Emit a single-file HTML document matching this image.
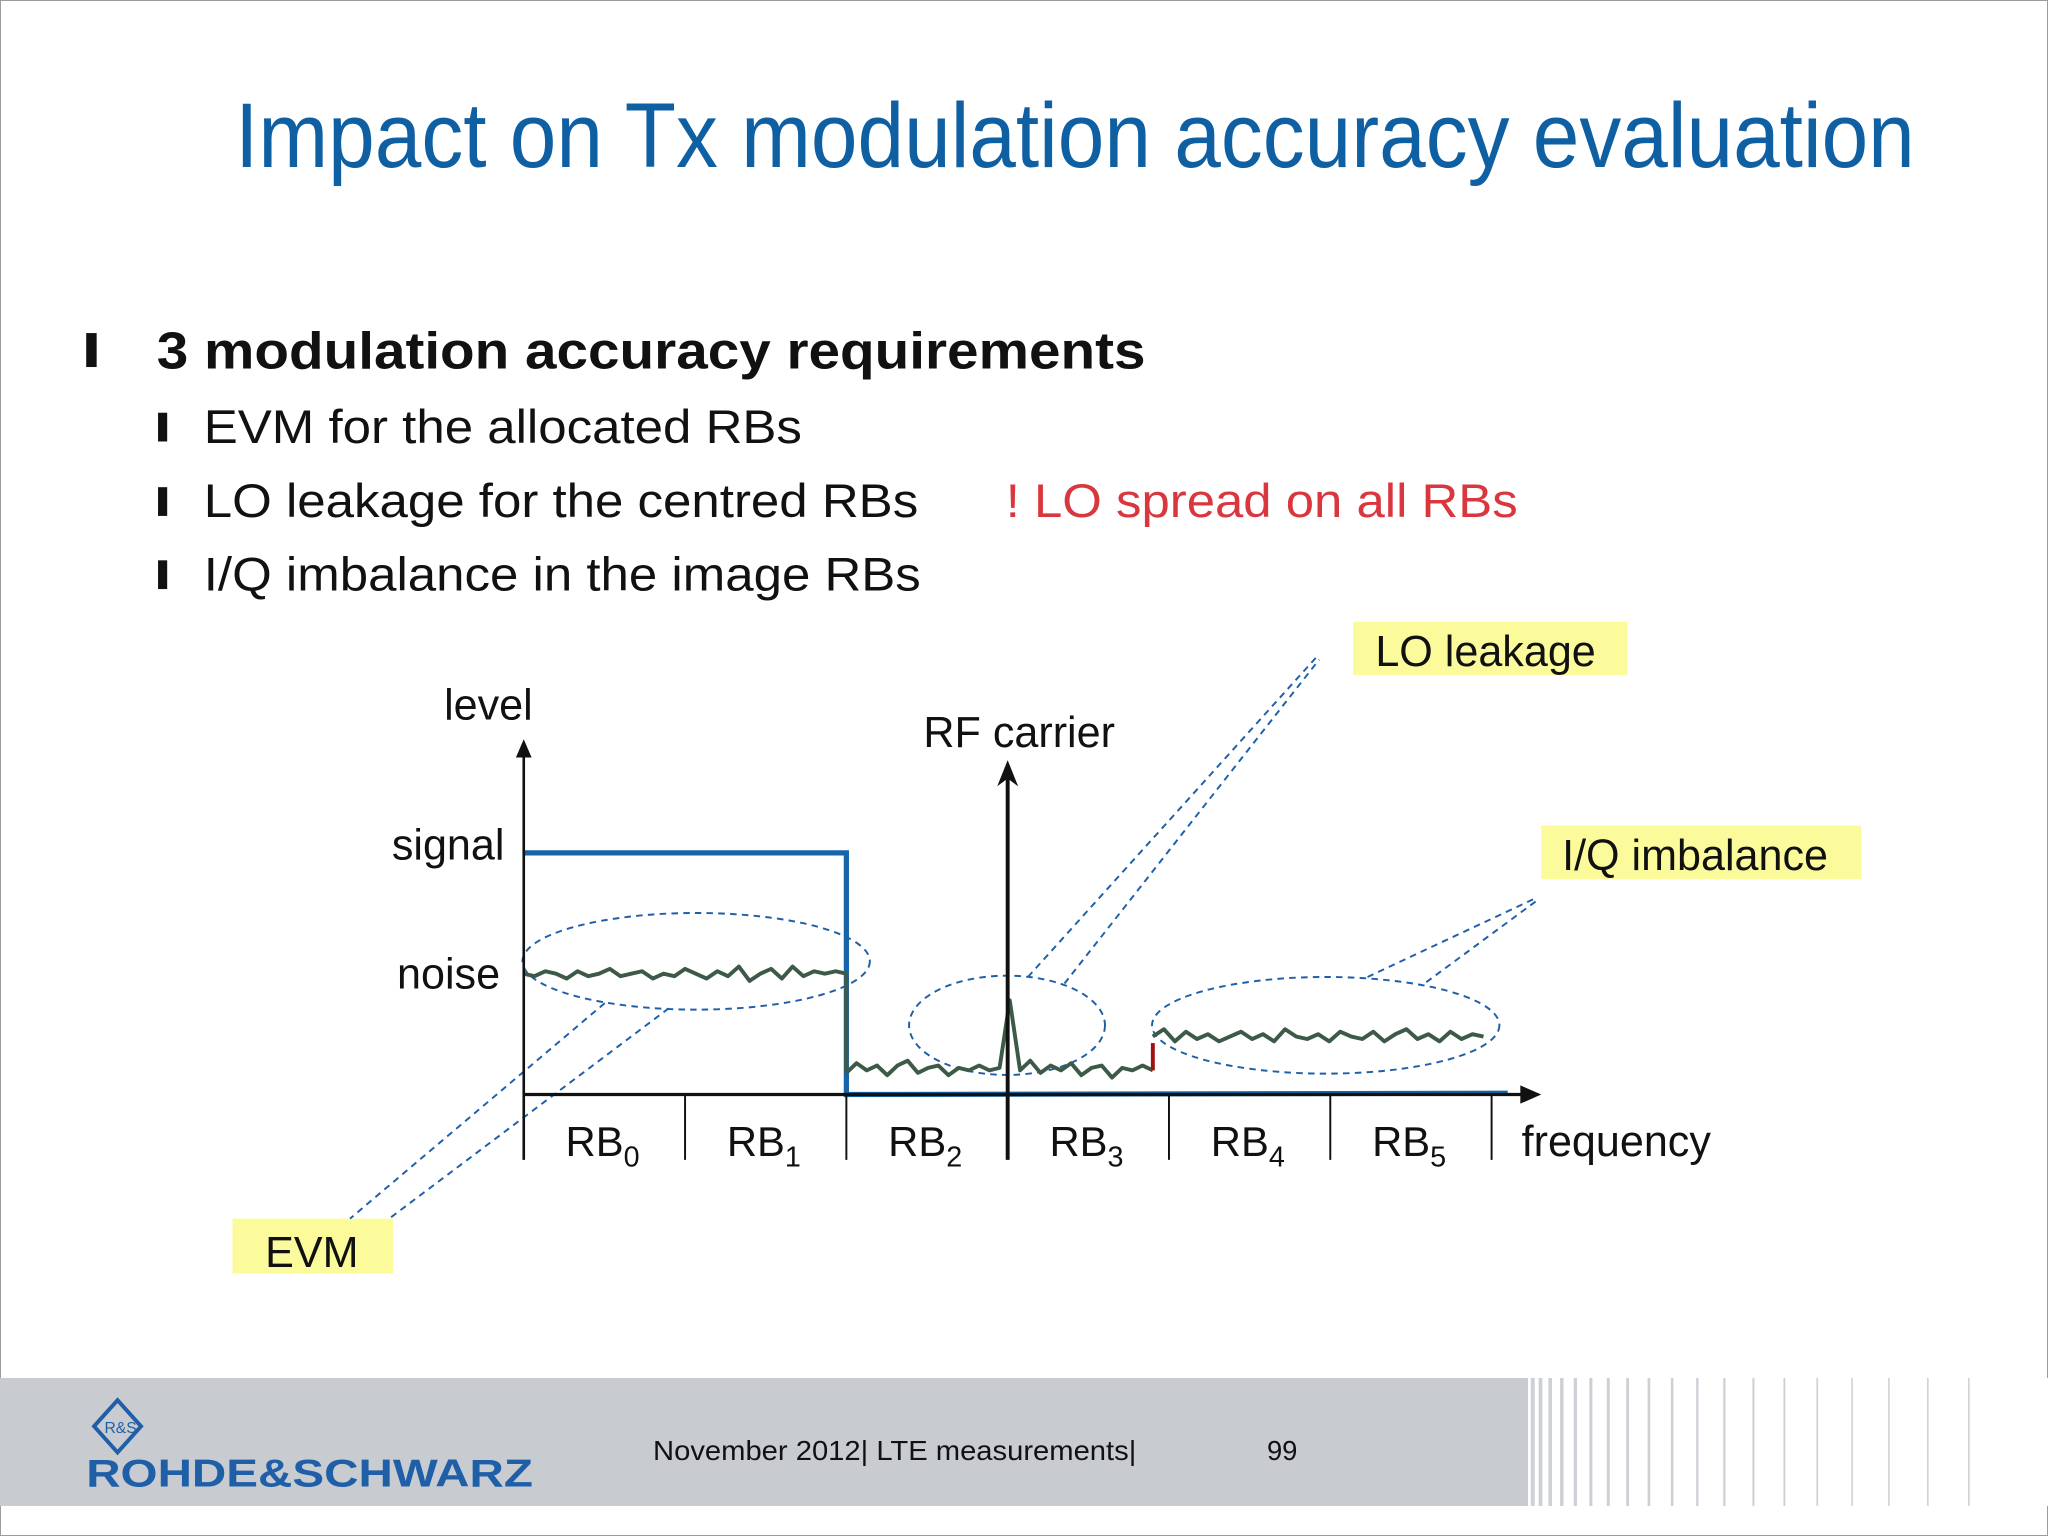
<!DOCTYPE html>
<html><head><meta charset="utf-8"><style>
html,body{margin:0;padding:0;background:#fff}
svg{display:block}
text{font-family:"Liberation Sans",sans-serif}
</style></head><body>
<svg id="s" width="2048" height="1536" viewBox="0 0 1568 1176" xmlns="http://www.w3.org/2000/svg">
<rect x="0" y="0" width="1568" height="1176" fill="#fff" stroke="#999" stroke-width="1.5"/>
<text x="180" y="128" font-size="70" fill="#0f5fa3" textLength="1286" lengthAdjust="spacingAndGlyphs">Impact on Tx modulation accuracy evaluation</text>
<rect x="66" y="255" width="8" height="26" fill="#111"/>
<text x="120" y="282" font-size="40" font-weight="bold" fill="#111" textLength="757" lengthAdjust="spacingAndGlyphs">3 modulation accuracy requirements</text>
<rect x="121" y="316" width="7" height="22" fill="#111"/>
<text x="156" y="339" font-size="36" fill="#111" textLength="458" lengthAdjust="spacingAndGlyphs">EVM for the allocated RBs</text>
<rect x="121" y="373" width="7" height="22" fill="#111"/>
<text x="156" y="396" font-size="36" fill="#111" textLength="547" lengthAdjust="spacingAndGlyphs">LO leakage for the centred RBs</text>
<text x="770" y="396" font-size="36" fill="#d9363e" textLength="392" lengthAdjust="spacingAndGlyphs">! LO spread on all RBs</text>
<rect x="121" y="429" width="7" height="22" fill="#111"/>
<text x="156" y="452" font-size="36" fill="#111" textLength="549" lengthAdjust="spacingAndGlyphs">I/Q imbalance in the image RBs</text>

<g id="chart"></g>

<rect x="0" y="1055" width="1170" height="98" fill="#c8ccd1"/>
<g id="stripes"></g>
<g>
<path d="M90 1072 L108 1092 L90 1112 L72 1092 Z" fill="none" stroke="#1f5fa8" stroke-width="3"/>
<text x="80" y="1097" font-size="12" fill="#1f5fa8">R&amp;S</text>
<text x="66" y="1138" font-size="30" font-weight="bold" fill="#1f5fa8" textLength="342" lengthAdjust="spacingAndGlyphs">ROHDE&amp;SCHWARZ</text>
</g>
<text x="500" y="1118" font-size="21" fill="#111" textLength="370" lengthAdjust="spacingAndGlyphs">November 2012|  LTE measurements|</text>
<text x="970" y="1118" font-size="21" fill="#111">99</text>
</svg>
<script>
const rbLabels=['0','1','2','3','4','5'];
const signalLevel=[1,1];
const noiseA=[0.50,0.49,0.51,0.50,0.48,0.51,0.49,0.50,0.52,0.49,0.50,0.51,0.48,0.50,0.49,0.52,0.50,0.48,0.51,0.49,0.53,0.47,0.50,0.52,0.48,0.53,0.49,0.51,0.50,0.51,0.50];
const noiseB=[0.09,0.13,0.10,0.12,0.08,0.12,0.14,0.09,0.11,0.12,0.08,0.11,0.10,0.12,0.10,0.11,0.39,0.10,0.14,0.09,0.12,0.10,0.13,0.08,0.11,0.12,0.07,0.11,0.10,0.12,0.10];
const noiseC=[0.24,0.27,0.22,0.26,0.23,0.25,0.22,0.24,0.26,0.23,0.25,0.22,0.27,0.24,0.23,0.25,0.22,0.26,0.24,0.23,0.26,0.22,0.25,0.27,0.23,0.25,0.22,0.26,0.23,0.25,0.24];
const NS='http://www.w3.org/2000/svg';
const X0=401,RBW=123.5,Y0=838,YS=185;
const xs=f=>X0+f*RBW, ys=v=>Y0-v*YS;
const g=document.getElementById('chart');
function el(t,a,p){const e=document.createElementNS(NS,t);for(const k in a)e.setAttribute(k,a[k]);(p||g).appendChild(e);return e;}
function txt(x,y,s,sz,extra){const e=el('text',Object.assign({x:x,y:y,'font-size':sz,fill:'#111'},extra||{}));e.textContent=s;return e;}
function series(arr,f0,f1,name){
  const d=arr.map((v,i)=>(i?'L':'M')+xs(f0+(f1-f0)*i/(arr.length-1)).toFixed(1)+' '+ys(v).toFixed(1)).join(' ');
  const p=el('path',{d:d,fill:'none',stroke:'#3d5a48','stroke-width':3,'stroke-linejoin':'round'});
  
  
}
[[178,933,123,42,'EVM',203,970,'evm-label'],[1036,476,210,41,'LO leakage',1053,510,'lo-leakage-label'],[1180,632,245,41,'I/Q imbalance',1196,666,'iq-imbalance-label']].forEach(b=>{
  const r=el('rect',{x:b[0],y:b[1],width:b[2],height:b[3],fill:'#fbfb9c'});
  
  
  const t=txt(b[5],b[6],b[4],33);
  
  
});
const ds={fill:'none',stroke:'#1f5fa8','stroke-width':1.5,'stroke-dasharray':'5 4'};
[[533,736,133,37,'evm-ellipse'],[771,785,75,38,'lo-ellipse'],[1015,785,133,37,'iq-ellipse']].forEach(e=>{
  const o=el('ellipse',Object.assign({cx:e[0],cy:e[1],rx:e[2],ry:e[3]},ds));
  
  
});
[[463,768,268,933],[512,772,298,933],[787,748,1008,503],[815,753,1010,505],[1047,748,1175,688],[1092,752,1176,690]].forEach(l=>{
  const o=el('line',Object.assign({x1:l[0],y1:l[1],x2:l[2],y2:l[3]},ds));
  
  
});
const sig=el('path',{d:`M${xs(0)} ${ys(signalLevel[0])} L${xs(2)} ${ys(signalLevel[1])} L${xs(2)} ${Y0} L${xs(6.1)} ${Y0-1}`,fill:'none',stroke:'#1565a8','stroke-width':4});


series(noiseA,0,2,'noise-allocated');
const drop=el('line',{x1:xs(2),y1:ys(noiseA[noiseA.length-1]),x2:xs(2),y2:ys(noiseB[0]),stroke:'#3d5a48','stroke-width':3});


series(noiseB,2,3.9,'noise-lo-leakage');
series(noiseC,3.9,5.95,'noise-iq-image');
const red=el('line',{x1:xs(3.9),y1:ys(noiseB[noiseB.length-1]),x2:xs(3.9),y2:ys(noiseC[0])+5,stroke:'#a01010','stroke-width':3});


const ya=el('line',{x1:X0,y1:Y0+50,x2:X0,y2:575,stroke:'#111','stroke-width':2});


el('path',{d:'M401 566 L395 580 L407 580 Z',fill:'#111'});
const xa=el('line',{x1:X0,y1:Y0,x2:1170,y2:Y0,stroke:'#111','stroke-width':2.5});


el('path',{d:'M1180 838 L1164 831 L1164 845 Z',fill:'#111'});
const rf=el('line',{x1:xs(3),y1:Y0+50,x2:xs(3),y2:592,stroke:'#111','stroke-width':3});


el('path',{d:`M${xs(3)} 582 L${xs(3)-8} 602 L${xs(3)} 596 L${xs(3)+8} 602 Z`,fill:'#111'});
for(let i=1;i<=6;i++){
  if(i===3)continue;
  const t=el('line',{x1:xs(i),y1:Y0,x2:xs(i),y2:Y0+50,stroke:'#111','stroke-width':1.5});
  
  
}
rbLabels.forEach((s,i)=>{
  const t=el('text',{x:xs(i)+32,y:885,'font-size':32,fill:'#111'});
  t.innerHTML='RB<tspan font-size="22" dy="8">'+s+'</tspan>';
  
  
});
[[1165,885,'frequency','x-axis-title'],[340,551,'level','y-axis-title'],[300,658,'signal','signal-label'],[304,757,'noise','noise-label'],[707,572,'RF carrier','rf-carrier-label']].forEach(a=>{
  const t=txt(a[0],a[1],a[2],33);
  
  
});
const st=document.getElementById('stripes');
el('rect',{x:1170,y:1055,width:398,height:98,fill:'#fff'},st);
let x=1172,w=3,gap=3;
while(x<1520){
  el('rect',{x:x,y:1055,width:w,height:98,fill:'#cdd1d6'},st);
  x+=w+gap; w=Math.max(1.2,w-0.12); gap+=1.6;
}
</script>
</body></html>
